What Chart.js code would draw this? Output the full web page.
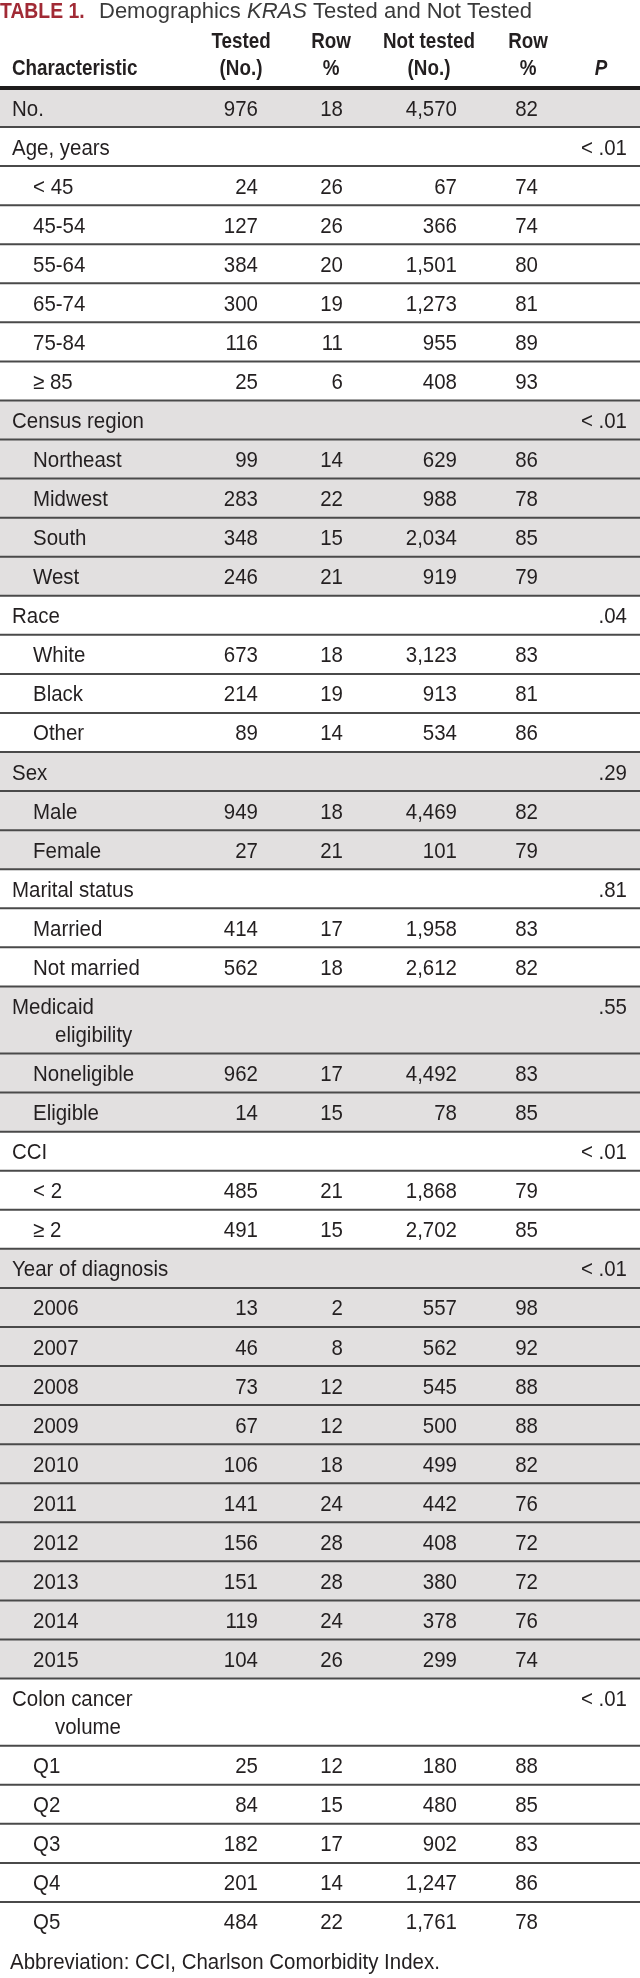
<!DOCTYPE html>
<html><head><meta charset="utf-8">
<script src="https://cdn.jsdelivr.net/npm/chart.js@4.4.0/dist/chart.umd.min.js"></script>
<style>html,body{margin:0;padding:0;background:#fff;}#wrap{width:640px;height:1978px;position:relative;}</style>
</head><body><div id="wrap"><canvas id="c" width="640" height="1978"></canvas></div>
<script>
// ---------------- DATA ----------------
const tableNumber = 'TABLE 1.';
const titleParts = ['Demographics ', 'KRAS', ' Tested and Not Tested'];
const columnHeaders = [['Characteristic'], ['Tested', '(No.)'], ['Row', '%'], ['Not tested', '(No.)'], ['Row', '%'], ['P']];
const rowLabels = ['No.', 'Age, years', '< 45', '45-54', '55-64', '65-74', '75-84', '\u2265 85',
  'Census region', 'Northeast', 'Midwest', 'South', 'West',
  'Race', 'White', 'Black', 'Other',
  'Sex', 'Male', 'Female',
  'Marital status', 'Married', 'Not married',
  'Medicaid\neligibility', 'Noneligible', 'Eligible',
  'CCI', '< 2', '\u2265 2',
  'Year of diagnosis', '2006', '2007', '2008', '2009', '2010', '2011', '2012', '2013', '2014', '2015',
  'Colon cancer\nvolume', 'Q1', 'Q2', 'Q3', 'Q4', 'Q5'];
const rowLevel = [0, 0, 1, 1, 1, 1, 1, 1,
  0, 1, 1, 1, 1,
  0, 1, 1, 1,
  0, 1, 1,
  0, 1, 1,
  0, 1, 1,
  0, 1, 1,
  0, 1, 1, 1, 1, 1, 1, 1, 1, 1, 1,
  0, 1, 1, 1, 1, 1];
const testedN = [976, null, 24, 127, 384, 300, 116, 25,
  null, 99, 283, 348, 246,
  null, 673, 214, 89,
  null, 949, 27,
  null, 414, 562,
  null, 962, 14,
  null, 485, 491,
  null, 13, 46, 73, 67, 106, 141, 156, 151, 119, 104,
  null, 25, 84, 182, 201, 484];
const testedPct = [18, null, 26, 26, 20, 19, 11, 6,
  null, 14, 22, 15, 21,
  null, 18, 19, 14,
  null, 18, 21,
  null, 17, 18,
  null, 17, 15,
  null, 21, 15,
  null, 2, 8, 12, 12, 18, 24, 28, 28, 24, 26,
  null, 12, 15, 17, 14, 22];
const notTestedN = [4570, null, 67, 366, 1501, 1273, 955, 408,
  null, 629, 988, 2034, 919,
  null, 3123, 913, 534,
  null, 4469, 101,
  null, 1958, 2612,
  null, 4492, 78,
  null, 1868, 2702,
  null, 557, 562, 545, 500, 499, 442, 408, 380, 378, 299,
  null, 180, 480, 902, 1247, 1761];
const notTestedPct = [82, null, 74, 74, 80, 81, 89, 93,
  null, 86, 78, 85, 79,
  null, 83, 81, 86,
  null, 82, 79,
  null, 83, 82,
  null, 83, 85,
  null, 79, 85,
  null, 98, 92, 88, 88, 82, 76, 72, 72, 76, 74,
  null, 88, 85, 83, 86, 78];
const pValues = ['', '< .01', '', '', '', '', '', '',
  '< .01', '', '', '', '',
  '.04', '', '', '',
  '.29', '', '',
  '.81', '', '',
  '.55', '', '',
  '< .01', '', '',
  '< .01', '', '', '', '', '', '', '', '', '', '',
  '< .01', '', '', '', '', ''];
const footnote = 'Abbreviation: CCI, Charlson Comorbidity Index.';

// ---------------- LAYOUT / STYLE ----------------
const W = 640, H = 1978;
const BODY_TOP = 88, BODY_BOTTOM_PAD = 37;
const DOUBLE_UNITS = 1.72;
const FAM = "'Liberation Sans', Arial, sans-serif";
const BODY_SIZE = 22, BODY_SX = 0.93;
const HEAD_SIZE = 22, HEAD_SX = 0.855;
const TEXT = '#231f20', GRAY = '#e2e0e0', LINE = '#4a4a4a', RED = '#a12a35';
const colAnchors = {label: 12, sub: 33, wrap: 55, testedN: 258, testedPct: 343, notTestedN: 457, notTestedPct: 538, p: 627};
const headAnchors = [{x: 12, a: 'left'}, {x: 241, a: 'center'}, {x: 331, a: 'center'}, {x: 429, a: 'center'}, {x: 528, a: 'center'}, {x: 601, a: 'center'}];

// row geometry in row units (derived from label line counts)
const rowStart = [], rowEnd = [];
let acc = 0;
rowLabels.forEach(l => { rowStart.push(acc); acc += l.includes('\n') ? DOUBLE_UNITS : 1; rowEnd.push(acc); });
const totalUnits = acc;
const rowMid = rowStart.map((s, i) => (s + rowEnd[i]) / 2);
const rowGray = [];
let g = -1;
rowLevel.forEach(l => { if (l === 0) g++; rowGray.push(g % 2 === 0); });

const fmt = v => v == null ? '' : v.toLocaleString('en-US');

function drawText(ctx, text, x, y, font, align, sx, color) {
  ctx.save();
  ctx.font = font;
  const w = ctx.measureText(text).width * sx;
  const left = align === 'right' ? x - w : align === 'center' ? x - w / 2 : x;
  ctx.translate(left, y);
  ctx.scale(sx, 1);
  ctx.fillStyle = color;
  ctx.textAlign = 'left';
  ctx.textBaseline = 'alphabetic';
  ctx.fillText(text, 0, 0);
  ctx.restore();
  return w;
}

const columns = [
  {key: 'testedN', vals: testedN.map(fmt), align: 'right'},
  {key: 'testedPct', vals: testedPct.map(fmt), align: 'right'},
  {key: 'notTestedN', vals: notTestedN.map(fmt), align: 'right'},
  {key: 'notTestedPct', vals: notTestedPct.map(fmt), align: 'right'},
  {key: 'p', vals: pValues, align: 'right'}
];

const datasets = [{
  label: 'Characteristic',
  data: rowLabels.map((l, i) => ({x: rowLevel[i] === 0 ? colAnchors.label : colAnchors.sub, y: rowMid[i]})),
  texts: rowLabels, align: 'left', pointRadius: 0, isLabel: true
}].concat(columns.map(c => ({
  label: c.key,
  data: c.vals.map((v, i) => ({x: colAnchors[c.key], y: rowMid[i]})),
  texts: c.vals, align: c.align, pointRadius: 0
})));

const tablePlugin = {
  id: 'tablePlugin',
  beforeDatasetsDraw(chart) {
    const ctx = chart.ctx, ys = chart.scales.y;
    ctx.save();
    rowLabels.forEach((l, i) => {
      if (!rowGray[i]) return;
      const y0 = ys.getPixelForValue(rowStart[i]), y1 = ys.getPixelForValue(rowEnd[i]);
      ctx.fillStyle = GRAY;
      ctx.fillRect(0, y0, W, y1 - y0);
    });
    ctx.strokeStyle = LINE;
    ctx.lineWidth = 2;
    rowLabels.forEach((l, i) => {
      if (i === rowLabels.length - 1) return;
      const y = ys.getPixelForValue(rowEnd[i]);
      ctx.beginPath(); ctx.moveTo(0, y); ctx.lineTo(W, y); ctx.stroke();
    });
    ctx.strokeStyle = '#1e1c1c';
    ctx.lineWidth = 4;
    const yh = ys.getPixelForValue(0);
    ctx.beginPath(); ctx.moveTo(0, yh); ctx.lineTo(W, yh); ctx.stroke();
    ctx.restore();
  },
  afterDatasetsDraw(chart) {
    const ctx = chart.ctx;
    const bodyFont = `${BODY_SIZE}px ${FAM}`;
    chart.data.datasets.forEach((ds, di) => {
      const meta = chart.getDatasetMeta(di);
      meta.data.forEach((el, i) => {
        const t = ds.texts[i];
        if (!t) return;
        const twoLine = rowLabels[i].includes('\n');
        if (!twoLine) {
          drawText(ctx, t, el.x, el.y + 8, bodyFont, ds.align, BODY_SX, TEXT);
        } else if (ds.isLabel) {
          const lines = t.split('\n');
          drawText(ctx, lines[0], el.x, el.y + 8 - 14, bodyFont, 'left', BODY_SX, TEXT);
          drawText(ctx, lines[1], colAnchors.wrap, el.y + 8 + 14, bodyFont, 'left', BODY_SX, TEXT);
        } else {
          drawText(ctx, t, el.x, el.y + 8 - 14, bodyFont, ds.align, BODY_SX, TEXT);
        }
      });
    });
    const hf = `bold ${HEAD_SIZE}px ${FAM}`;
    columnHeaders.forEach((h, c) => {
      const a = headAnchors[c];
      const font = c === 5 ? `italic bold ${HEAD_SIZE}px ${FAM}` : hf;
      if (h.length === 2) {
        drawText(ctx, h[0], a.x, 48, font, a.a, HEAD_SX, '#231f20');
        drawText(ctx, h[1], a.x, 75, font, a.a, HEAD_SX, '#231f20');
      } else {
        drawText(ctx, h[0], a.x, 75, font, a.a, HEAD_SX, '#231f20');
      }
    });
    drawText(ctx, tableNumber, 0, 18, `bold 22px ${FAM}`, 'left', 0.88, RED);
    let x = 99;
    x += drawText(ctx, titleParts[0], x, 18, `22px ${FAM}`, 'left', 1.0, '#3a3a3a');
    x += drawText(ctx, titleParts[1], x, 18, `italic 22px ${FAM}`, 'left', 1.0, '#3a3a3a');
    drawText(ctx, titleParts[2], x, 18, `22px ${FAM}`, 'left', 1.0, '#3a3a3a');
    drawText(ctx, footnote, 10, 1969, bodyFont, 'left', BODY_SX, TEXT);
  }
};

new Chart(document.getElementById('c'), {
  type: 'scatter',
  data: {datasets},
  options: {
    responsive: false, animation: false, events: [],
    layout: {padding: {top: BODY_TOP, bottom: BODY_BOTTOM_PAD, left: 0, right: 0}},
    plugins: {legend: {display: false}, tooltip: {enabled: false}, title: {display: false}},
    scales: {
      x: {type: 'linear', min: 0, max: W, display: false},
      y: {type: 'linear', min: 0, max: totalUnits, reverse: true, display: false}
    }
  },
  plugins: [tablePlugin]
});
</script></body></html>
